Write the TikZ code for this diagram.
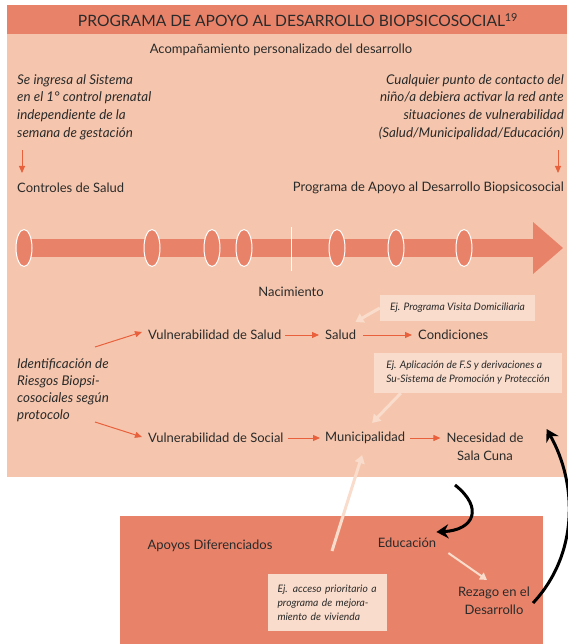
\documentclass[tikz,border=0pt]{standalone}
\usepackage{fontspec}
\setmainfont{Lato}
\usetikzlibrary{arrows.meta}
\definecolor{dark}{HTML}{E8836A}
\definecolor{light}{HTML}{F5C6AD}
\definecolor{pale}{HTML}{F9DCCB}
\definecolor{arrowred}{HTML}{E8603C}
\definecolor{ink}{HTML}{2A2A2A}
\begin{document}
\begin{tikzpicture}[x=1pt,y=-1pt,
  lbl/.style={font=\fontsize{13}{18}\selectfont, inner sep=0pt, text=ink},
  itl/.style={font=\fontsize{13.4}{17.7}\selectfont\itshape, inner sep=0pt, text=ink},
  callout/.style={fill=pale, font=\fontsize{10.3}{14}\selectfont\itshape, text=ink, inner xsep=5pt, inner ysep=0pt, align=left},
  tarrow/.style={draw=arrowred, line width=1pt, -{Triangle[width=6pt,length=7pt]}},
  larrow/.style={draw=pale, line width=3pt, -{Triangle[width=10pt,length=8pt]}},
  barrow/.style={draw=black, line width=3pt, -{Stealth[width=14pt,length=12pt]}},
  dot/.style={fill=dark, draw=white, line width=1pt}]
\useasboundingbox (0,0) rectangle (567,644);
% panels
\fill[light] (7,34) rectangle (567,477);
\fill[dark] (7,5) rectangle (567,34);
\fill[dark] (120,516) rectangle (543,644);
% title
\node[font=\fontsize{15.6}{17}\selectfont, text=ink, inner sep=0pt] (title) at (298,20) {PROGRAMA DE APOYO AL DESARROLLO BIOPSICOSOCIAL\textsuperscript{19}};
\node[lbl] (acomp) at (281,50) {Acompañamiento personalizado del desarrollo};
% top texts
\node[itl, align=left, anchor=north west] (ingresa) at (17,74) {Se ingresa al Sistema\\en el 1° control prenatal\\independiente de la\\semana de gestación};
\node[itl, align=right, anchor=north east] (contacto) at (564,74) {Cualquier punto de contacto del\\niño/a debiera activar la red ante\\situaciones de vulnerabilidad\\(Salud/Municipalidad/Educación)};
\node[lbl, anchor=west] (controles) at (17,188) {Controles de Salud};
\node[lbl, anchor=east] (programa) at (564,188) {Programa de Apoyo al Desarrollo Biopsicosocial};
\coordinate (d1a) at (22,150); \coordinate (d1b) at (22,173);
\coordinate (d2a) at (558,150); \coordinate (d2b) at (558,173);
\draw[tarrow] (d1a) -- (d1b);
\draw[tarrow] (d2a) -- (d2b);
% timeline
\fill[dark] (24,239) rectangle (535,257);
\fill[dark] (533,222) -- (563,248) -- (533,274) -- cycle;
\draw[white, line width=1pt] (291,227) -- (291,271);
\foreach \x in {24,152,212,244,337,396,464}
  \draw[dot] (\x,248) ellipse [x radius=8, y radius=18.5];
\node[lbl] (nac) at (291,292) {Nacimiento};
% left identification text
\node[itl, align=left, anchor=north west, font=\fontsize{13.4}{17}\selectfont\itshape] (ident) at (17,358) {Identificación de\\Riesgos Biopsi-\\cosociales según\\protocolo};
% row 1
\node[lbl, anchor=west] (vs) at (148,335) {Vulnerabilidad de Salud};
\node[lbl, anchor=west] (sal) at (325,335) {Salud};
\node[lbl, anchor=west] (cond) at (418,335) {Condiciones};
\draw[tarrow, shorten <=4pt, shorten >=6pt] (vs.east) -- (sal.west);
\draw[tarrow, shorten <=7pt, shorten >=6pt] (sal.east) -- (cond.west);
% row 2
\node[lbl, anchor=west] (vsoc) at (148,438) {Vulnerabilidad de Social};
\node[lbl, anchor=west] (muni) at (325,438) {Municipalidad};
\node[lbl, align=center, anchor=north] (nec) at (485,433) {Necesidad de\\Sala Cuna};
\draw[tarrow, shorten <=4pt, shorten >=5pt] (vsoc.east) -- (muni.west);
\draw[tarrow, shorten <=5pt, shorten >=6pt] (muni.east) -- (muni.east -| nec.west);
% arrows from identification
\coordinate (i1) at (95,347);
\coordinate (i2) at (95,422);
\draw[tarrow] (i1) -- ([shift={(-6,-3)}]vs.west);
\draw[tarrow] (i2) -- ([shift={(-6,-1)}]vsoc.west);
% callouts
\node[callout, minimum width=155pt, minimum height=26pt] (c1) at (457.5,308) {Ej. Programa Visita Domiciliaria};
\node[callout, minimum width=188pt, minimum height=40pt] (c2) at (468,373) {Ej. Aplicación de F.S y derivaciones a\\Su-Sistema de Promoción y Protección};
\draw[larrow] (c1.west) -- ([shift={(-1,-8)}]sal.north east);
\draw[larrow] ([xshift=27pt]c2.south west) -- ([shift={(7,-9)}]muni.north);
% lower box
\node[lbl] (apoyos) at (210,546) {Apoyos Diferenciados};
\node[lbl] (edu) at (407,543) {Educación};
\node[lbl, align=center] (rez) at (494,601) {Rezago en el\\Desarrollo};
\node[callout, text width=100pt, minimum height=57pt, inner xsep=9.5pt] (c3) at (327.5,602.5) {Ej. acceso prioritario a\\programa de mejora-\\miento de vivienda};
\coordinate (ap) at (332,551);
\draw[larrow] (ap) -- ([shift={(-3,11)}]muni.south);
\draw[larrow, line width=2pt, -{Triangle[width=8pt,length=7pt]}] ([shift={(12,5)}]edu.south east) -- ([shift={(-7,-7)}]rez.north);
% black curved arrows
\coordinate (b1) at (455,485);
\coordinate (b2) at (533,603);
\draw[barrow] (b1) .. controls (484,508) and (474,530) .. ([shift={(0,-11)}]edu.east);
\draw[barrow] (b2) .. controls (578,555) and (578,485) .. ([shift={(23,-4)}]nec.north east);
\end{tikzpicture}
\end{document}
